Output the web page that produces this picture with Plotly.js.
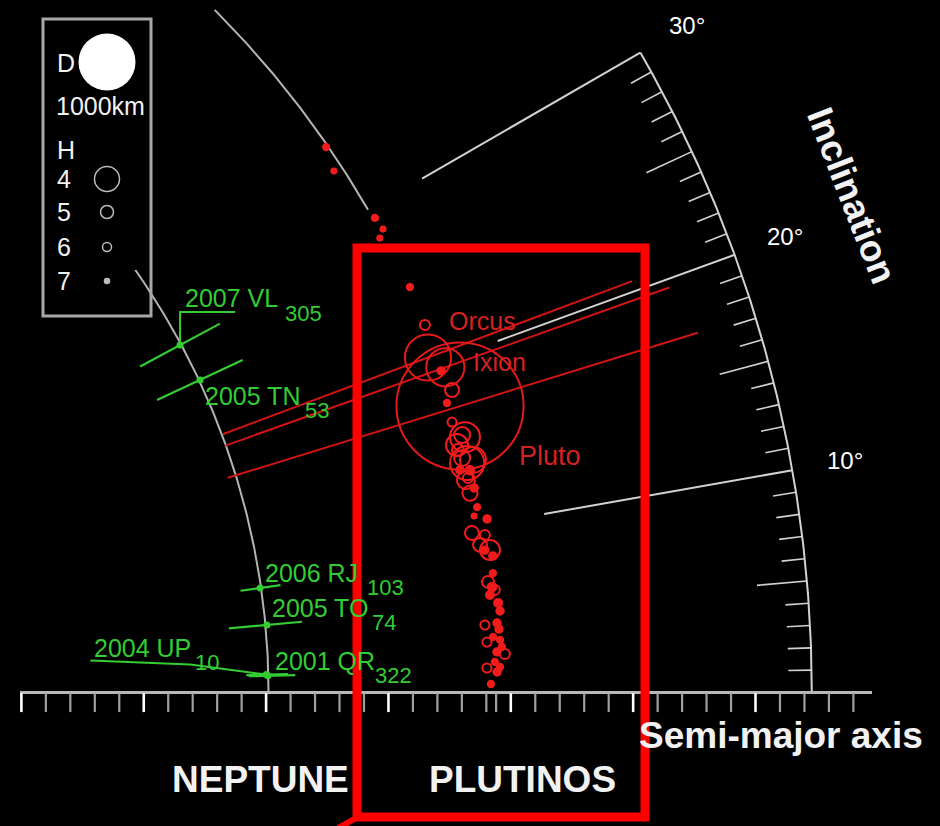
<!DOCTYPE html>
<html><head><meta charset="utf-8">
<script src="https://cdn.plot.ly/plotly-3.0.1.min.js"></script>
<style>html,body{margin:0;padding:0;background:#000;}#chart{width:940px;height:826px;}</style>
</head><body><div id="chart"></div>
<script>
// ---------- DATA ----------
// Plutinos (semi-major axis AU, inclination deg, diameter km)
const plutinoA = [39.37,39.09,39.53,39.60,39.31,39.52,39.46,39.41,39.58,39.22,39.19,39.53,39.44,39.35,39.20,39.39,38.99,39.19,39.40,39.36,39.17,39.67,38.96,39.47,39.58,39.37,39.66,39.57,39.33,39.47,39.35,39.65,39.70,39.04,39.54,39.60,39.34,39.62,39.08,39.68,39.79,39.47,39.37,39.04,39.45,39.57,39.19,39.12,39.24,39.13,39.61,39.14,39.21,39.57];
const plutinoI = [34.48,33.04,29.38,28.57,28.19,24.79,22.37,19.48,18.20,17.56,16.38,15.31,15.47,13.79,14.15,13.34,13.48,12.00,12.25,11.10,10.61,10.30,9.63,9.39,8.46,8.50,8.09,7.08,6.60,6.27,5.81,5.30,4.81,4.05,4.12,3.75,3.31,3.11,3.02,2.69,2.26,2.41,1.82,1.47,1.22,1.51,0.51,14.68,12.91,14.98,13.88,12.81,8.85,6.08];
const plutinoD = [110,90,110,90,90,110,175,130,245,110,160,525,280,600,280,150,130,265,130,110,90,130,245,175,350,130,130,110,210,150,140,140,130,160,130,130,110,110,160,110,175,130,110,160,130,110,110,210,175,385,455,315,245,175];

// Named plutinos
const namedNames = ['Pluto','Orcus','Ixion'];
const namedA = [39.69, 39.09, 39.62];
const namedI = [17.15, 20.5, 19.6];
const namedD = [2230, 810, 670];
const namedPeri = [29.76, 30.14, 30.08];
const namedAph = [49.86, 48.0, 49.34];

// Neptune trojans
const trojanNames = ['2001 QR','2004 UP','2005 TO','2006 RJ','2005 TN','2007 VL'];
const trojanSub = ['322','10','74','103','53','305'];
const trojanA = [30.08, 30.02, 30.16, 30.06, 30.14, 30.05];
const trojanI = [1.3, 1.4, 5.25, 8.17, 25.07, 28.2];
const trojanPeri = [29.3, 29.2, 28.6, 29.25, 28.2, 28.2];
const trojanAph = [31.2, 30.9, 31.6, 30.9, 32.06, 31.9];

// Reference values
const neptuneA = 30.1;
const resonanceA = 39.45;
const incTicks = [10, 20, 30];
const legendH = [4, 5, 6, 7];
const legendHsize = [25, 13, 9, 5];

// ---------- GEOMETRY HELPERS ----------
const K = 24.47, OX = -468, OY = 692.5, W = 940, H = 826;
const rad = d => d * Math.PI / 180;
const pol = (r, d) => [r * Math.cos(rad(d)), r * Math.sin(rad(d))];
const PX = px => px / W, PY = py => 1 - py / H;
const kmToPx = 0.057;

function arc(r, d0, d1) {
  const xs = [], ys = [];
  for (let d = d0; d <= d1 + 1e-9; d += 0.25) { const p = pol(r, d); xs.push(p[0]); ys.push(p[1]); }
  return {x: xs, y: ys};
}
function segs(list) {
  const xs = [], ys = [];
  list.forEach(s => { xs.push(s[0][0], s[1][0], null); ys.push(s[0][1], s[1][1], null); });
  return {x: xs, y: ys};
}
const lineTrace = (g, color, width) => ({type: 'scatter', mode: 'lines', x: g.x, y: g.y, line: {color, width}, hoverinfo: 'skip'});

const outerR = 52.3, innerR = 42;
const traces = [];

// arcs
traces.push(lineTrace(arc(neptuneA, 0, 35), '#b4b4b4', 2));
traces.push(lineTrace(arc(resonanceA, 30, 45), '#b4b4b4', 2));
traces.push(lineTrace(arc(outerR, 0, 30), '#d2d2d2', 2));
const arcTicks = [];
for (let d = 1; d <= 30; d++) {
  if (d % 10 === 0) continue;
  const len = d % 5 === 0 ? 2.05 : 0.95;
  arcTicks.push([pol(outerR - len, d), pol(outerR, d)]);
}
traces.push(lineTrace(segs(arcTicks), '#d2d2d2', 1.6));
traces.push(lineTrace(segs(incTicks.map(d => [pol(innerR, d), pol(outerR, d)])), '#d2d2d2', 2));

// semi-major axis
const axL = (20 - OX) / K, axR = (872 - OX) / K;
traces.push(lineTrace({x: [axL, axR], y: [0, 0]}, '#b8b8b8', 3));
const tTop = -0.03, tBot = -0.80;
const minorT = [], majorT = [];
for (let a = 20; a <= 54; a++) (a % 5 === 0 ? majorT : minorT).push([[a, tTop], [a, tBot]]);
minorT.push([[39.4, tTop], [39.4, tBot]]);
traces.push(lineTrace(segs(minorT), '#a0a0a0', 2.2));
traces.push(lineTrace(segs(majorT), '#ffffff', 2.6));

// q-Q lines
traces.push(lineTrace(segs(namedNames.map((n, k) => [pol(namedPeri[k], namedI[k]), pol(namedAph[k], namedI[k])])), '#d41414', 2));
traces.push(lineTrace(segs(trojanNames.map((n, k) => [pol(trojanPeri[k], trojanI[k]), pol(trojanAph[k], trojanI[k])])), '#33cc33', 2.2));

// leader lines for offset labels (pixel offsets from the object)
function leader(k, offs) {
  const p = pol(trojanA[k], trojanI[k]);
  return offs.map(o => [p[0] + o[0] / K, p[1] - o[1] / K]);
}
[leader(5, [[0,0],[0,-33],[55,-33]]), leader(1, [[0,0],[-76,-10],[-176,-14]])].forEach(pts => {
  traces.push(lineTrace({x: pts.map(p => p[0]), y: pts.map(p => p[1])}, '#33cc33', 2));
});

// plutinos
function circleTrace(A, I, D, color) {
  const xs = [], ys = [], sz = [], fill = [];
  A.forEach((a, k) => { const p = pol(a, I[k]); xs.push(p[0]); ys.push(p[1]); sz.push(D[k] * kmToPx); fill.push(D[k] <= 150 ? color : 'rgba(0,0,0,0)'); });
  return {type: 'scatter', mode: 'markers', x: xs, y: ys, hoverinfo: 'skip',
    marker: {symbol: 'circle', size: sz, color: fill, opacity: 1, line: {color: color, width: 2}}};
}
traces.push(circleTrace(plutinoA, plutinoI, plutinoD, '#f21c1c'));
traces.push(circleTrace(namedA, namedI, namedD, '#e41a1a'));

// trojans
traces.push({type: 'scatter', mode: 'markers', hoverinfo: 'skip',
  x: trojanA.map((a, k) => pol(a, trojanI[k])[0]), y: trojanA.map((a, k) => pol(a, trojanI[k])[1]),
  marker: {size: 7, color: '#33cc33'}});

// ---------- ANNOTATIONS ----------
const ann = [];
const F = 'Liberation Sans, Arial, sans-serif';
const trojanOff = [[5,15,105,0],[-174,27,-73,12],[3,17,103,2],[3,15,105,0],[3,-16,103,-31],[3,47,103,32]];
trojanNames.forEach((n, k) => {
  const p = pol(trojanA[k], trojanI[k]);
  const o = trojanOff[k];
  ann.push({x: p[0], y: p[1], xref: 'x', yref: 'y', text: n, showarrow: false, xanchor: 'left', yanchor: 'middle', xshift: o[0], yshift: o[1], font: {family: F, size: 25, color: '#33cc33'}});
  ann.push({x: p[0], y: p[1], xref: 'x', yref: 'y', text: trojanSub[k], showarrow: false, xanchor: 'left', yanchor: 'middle', xshift: o[2], yshift: o[3], font: {family: F, size: 22, color: '#33cc33'}});
});
const namedOff = [[57,-50,27],[19,37,25],[26,5,25]];
namedNames.forEach((n, k) => {
  const p = pol(namedA[k], namedI[k]);
  ann.push({x: p[0], y: p[1], xref: 'x', yref: 'y', text: n, showarrow: false, xanchor: 'left', yanchor: 'middle', xshift: namedOff[k][0], yshift: namedOff[k][1], font: {family: F, size: namedOff[k][2], color: '#d42222'}});
});
incTicks.forEach(d => {
  const p = pol(54.5, d);
  ann.push({x: p[0], y: p[1], xref: 'x', yref: 'y', text: d + '°', showarrow: false, xanchor: 'center', yanchor: 'middle', font: {family: F, size: 24, color: '#ffffff'}});
});
const pText = (px, py, text, size, opts) => Object.assign({x: PX(px), y: PY(py), xref: 'paper', yref: 'paper', text, showarrow: false, xanchor: 'center', yanchor: 'middle', font: {family: F, size, color: '#f2f2f2'}}, opts || {});
ann.push(pText(852, 195, '<b>Inclination</b>', 37, {textangle: 68.7}));
ann.push(pText(781, 735, '<b>Semi-major axis</b>', 37));
ann.push(pText(260, 779, '<b>NEPTUNE</b>', 37));
ann.push(pText(522, 779, '<b>PLUTINOS</b>', 37));
ann.push(pText(55, 63, 'D', 25, {xanchor: 'left'}));
ann.push(pText(54, 106, '1000km', 25, {xanchor: 'left'}));
ann.push(pText(55, 150, 'H', 25, {xanchor: 'left'}));
const legY = [179, 212, 247, 281];
legendH.forEach((h, k) => ann.push(pText(55, legY[k], String(h), 25, {xanchor: 'left'})));

// ---------- SHAPES ----------
const shapes = [];
shapes.push({type: 'rect', xref: 'paper', yref: 'paper', x0: PX(43), x1: PX(151), y0: PY(19), y1: PY(316), line: {color: '#a8a8a8', width: 3}});
shapes.push({type: 'circle', xref: 'paper', yref: 'paper', x0: PX(107 - 28.5), x1: PX(107 + 28.5), y0: PY(62 - 28.5), y1: PY(62 + 28.5), fillcolor: '#ffffff', line: {color: '#ffffff', width: 0}});
legendH.forEach((h, k) => {
  const r = legendHsize[k] / 2;
  shapes.push({type: 'circle', xref: 'paper', yref: 'paper', x0: PX(107 - r), x1: PX(107 + r), y0: PY(legY[k] - r), y1: PY(legY[k] + r),
    fillcolor: k === 3 ? '#bbbbbb' : 'rgba(0,0,0,0)', line: {color: '#bbbbbb', width: 1.5}});
});
shapes.push({type: 'rect', xref: 'paper', yref: 'paper', x0: PX(357), x1: PX(645), y0: PY(817), y1: PY(248), line: {color: '#ff0000', width: 9}});
shapes.push({type: 'line', xref: 'paper', yref: 'paper', x0: PX(356), y0: PY(818), x1: PX(338), y1: PY(828), line: {color: '#ff0000', width: 6}});

const layout = {
  width: W, height: H, margin: {l: 0, r: 0, t: 0, b: 0},
  paper_bgcolor: '#000', plot_bgcolor: '#000', showlegend: false,
  xaxis: {range: [(0 - OX) / K, (W - OX) / K], visible: false, fixedrange: true},
  yaxis: {range: [(OY - H) / K, OY / K], visible: false, fixedrange: true},
  annotations: ann, shapes: shapes
};
Plotly.newPlot('chart', traces, layout, {staticPlot: true, displayModeBar: false});
</script></body></html>
